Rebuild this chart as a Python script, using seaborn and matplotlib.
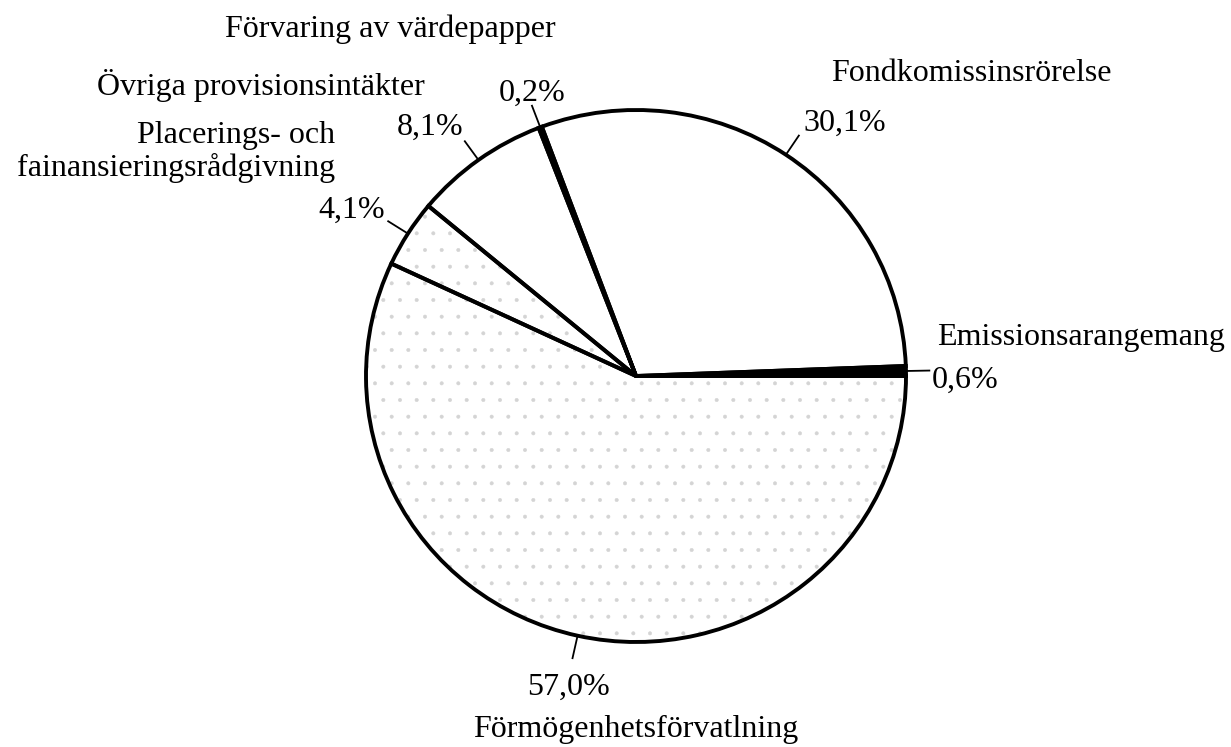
import numpy as np
import matplotlib
matplotlib.use("Agg")
import matplotlib.pyplot as plt
import seaborn as sns

# Provision income by type, in percent, counter-clockwise from 3 o'clock
categories = [
    "Emissionsarangemang",
    "Fondkomissinsrörelse",
    "Förvaring av värdepapper",
    "Övriga provisionsintäkter",
    "Placerings- och\nfainansieringsrådgivning",
    "Förmögenhetsförvatlning",
]
shares = [0.6, 30.1, 0.2, 8.1, 4.1, 57.0]
pct_labels = ["0,6%", "30,1%", "0,2%", "8,1%", "4,1%", "57,0%"]

sns.set_theme(style="white")
plt.rcParams["font.family"] = ["Liberation Serif", "DejaVu Serif"]
plt.rcParams["hatch.linewidth"] = 0.4

W, H = 1231, 747
fig = plt.figure(figsize=(W / 100, H / 100), dpi=100)
ax = fig.add_axes([0, 0, 1, 1])

# pixel layout of the pie: centre and radii
cx, cy, rx, ry = 636, 376, 270, 266


def px(x, y):
    """Figure pixel position (top-left origin) -> data coordinates."""
    return (x - cx) / rx, (cy - y) / ry


fills = ["black", "white", "black", "white", "white", "white"]
stipple = [False, False, False, False, True, True]

# fill layer: stippled wedges carry a faint dotted hatch
fill_wedges, _ = ax.pie(shares, startangle=0, counterclock=True,
                        colors=fills, wedgeprops=dict(linewidth=0))
for w, st in zip(fill_wedges, stipple):
    w.set_edgecolor("#d4d4d4" if st else w.get_facecolor())
    w.set_linewidth(0)
    if st:
        w.set_hatch(".")

# outline layer
line_wedges, _ = ax.pie(shares, startangle=0, counterclock=True,
                        colors=["none"] * len(shares),
                        wedgeprops=dict(edgecolor="black", linewidth=2.8,
                                        joinstyle="miter"))
for w, c in zip(line_wedges, fills):
    if c == "black":
        w.set_facecolor("black")

ax.set_aspect("auto")
ax.set_xlim(-cx / rx, (W - cx) / rx)
ax.set_ylim((cy - H) / ry, cy / ry)
ax.axis("off")

fs = 23
# leader lines and percentage labels at each wedge's mid-angle
pct_align = [
    ("left", "center", (1, -7)),
    ("left", "bottom", (3, -2)),
    ("center", "bottom", (0, -2)),
    ("right", "bottom", (-1, -1)),
    ("right", "bottom", (-2, -3)),
    ("center", "top", (-3, -10)),
]
for w, lab, (ha, va, off) in zip(line_wedges, pct_labels, pct_align):
    mid = np.deg2rad((w.theta1 + w.theta2) / 2)
    r0, r1 = 1.0, 1.09
    x0, y0 = r0 * np.cos(mid), r0 * np.sin(mid)
    x1, y1 = r1 * np.cos(mid), r1 * np.sin(mid)
    ax.plot([x0, x1], [y0, y1], color="black", lw=1.3, solid_capstyle="butt")
    ax.annotate(lab, xy=(x1, y1), xytext=off, textcoords="offset points",
                ha=ha, va=va, fontsize=fs, color="black")

# category names
name_pos = [
    ((1081, 337), "center", "center"),
    ((971, 74), "center", "center"),
    ((390, 29), "center", "center"),
    ((261, 85), "center", "center"),
    ((335, 152), "right", "center"),
    ((636, 729), "center", "center"),
]
for name, ((x, y), ha, va) in zip(categories, name_pos):
    ax.text(*px(x, y), name, ha=ha, va=va, fontsize=fs, color="black",
            multialignment="right", linespacing=1.15)

fig.savefig("out.png", dpi=100, facecolor="white")
